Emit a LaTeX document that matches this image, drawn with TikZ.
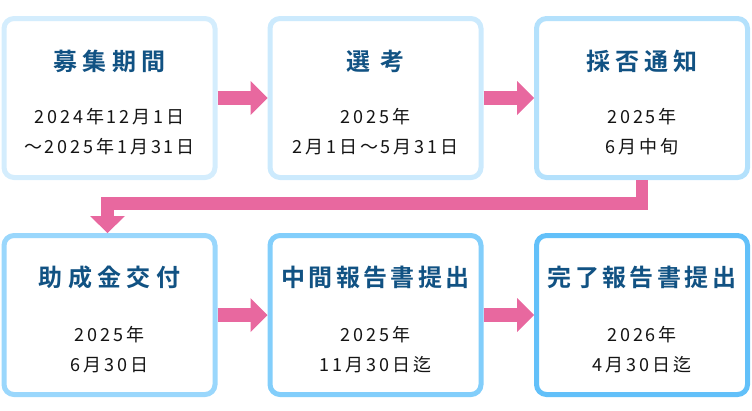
\documentclass[tikz,border=0pt]{standalone}
\usepackage{fontspec}
\usetikzlibrary{arrows.meta,calc}
\newfontfamily\ttlfont{Noto Sans CJK JP}[UprightFont=* Bold,LetterSpace=14]
\newfontfamily\ttlfontw{Noto Sans CJK JP}[UprightFont=* Bold,LetterSpace=22]
\newfontfamily\datefont{Noto Sans CJK JP}[LetterSpace=16]
\definecolor{bA}{HTML}{D4EDFD}
\definecolor{bB}{HTML}{CCEAFD}
\definecolor{bC}{HTML}{B4E1FC}
\definecolor{bD}{HTML}{9AD7FC}
\definecolor{bE}{HTML}{82CEFB}
\definecolor{bF}{HTML}{62C0F9}
\definecolor{ttlblue}{HTML}{115283}
\definecolor{pk}{HTML}{E8689F}
\begin{document}
\begin{tikzpicture}[x=1pt,y=-1pt,
  box/.style={draw=#1, line width=5pt, fill=white, rounded corners=10pt,
    minimum width=211pt, minimum height=159pt, inner sep=0pt},
  ttl/.style={text=ttlblue, font=\ttlfont\fontsize{24}{28}\selectfont, inner sep=0pt},
  ttlw/.style={text=ttlblue, font=\ttlfontw\fontsize{24}{28}\selectfont, inner sep=0pt},
  dt/.style={text=black!92, font=\datefont\fontsize{18}{30}\selectfont, align=center, inner sep=0pt},
  conn/.style={draw=pk, line width=14pt, -{Triangle[length=17pt,width=34pt,line width=0pt]}},
  elbow/.style={draw=pk, line width=12.5pt, line join=miter, -{Triangle[length=17pt,width=35pt,line width=0pt]}}]
\useasboundingbox (0,0) rectangle (752,410);

\node[box=bA] (b1) at (109.5,98) {};
\node[box=bB] (b2) at (375.5,98) {};
\node[box=bC] (b3) at (642,98) {};
\node[box=bD] (b4) at (109.5,315) {};
\node[box=bE] (b5) at (375.5,315) {};
\node[box=bF] (b6) at (642,315) {};

\node[ttlw] (t1) at ($(b1)+(0,-37)$) {募集期間};
\node[ttlw] (t2) at ($(b2)+(0,-37)$) {選 考};
\node[ttlw] (t3) at ($(b3)+(0,-37)$) {採否通知};
\node[ttlw] (t4) at ($(b4)+(0,-37.5)$) {助成金交付};
\node[ttl] (t5) at ($(b5)+(0,-37.5)$) {中間報告書提出};
\node[ttl] (t6) at ($(b6)+(0,-37.5)$) {完了報告書提出};

\node[dt] (d1) at ($(b1)+(0,34)$) {2024年12月1日\\～2025年1月31日};
\node[dt] (d2) at ($(b2)+(0,34)$) {2025年\\2月1日～5月31日};
\node[dt] (d3) at ($(b3)+(0,34)$) {2025年\\6月中旬};
\node[dt] (d4) at ($(b4)+(0,34.5)$) {2025年\\6月30日};
\node[dt] (d5) at ($(b5)+(0,34.5)$) {2025年\\11月30日迄};
\node[dt] (d6) at ($(b6)+(0,34.5)$) {2026年\\4月30日迄};

\draw[conn] (b1.east) -- (b2.west);
\draw[conn] (b2.east) -- (b3.west);
\draw[conn] (b4.east) -- (b5.west);
\draw[conn] (b5.east) -- (b6.west);
\coordinate (e4) at ($(b4.north)+(-2,0)$);
\draw[elbow] (b3.south) -- ++(0,23.5) -| (e4);
\end{tikzpicture}
\end{document}
